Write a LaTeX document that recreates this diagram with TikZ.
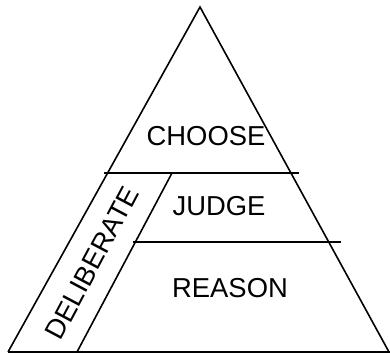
\documentclass[tikz,border=0pt]{standalone}
\usepackage{fontspec}
\setmainfont{Liberation Sans}
\usepackage{tikz}
\usetikzlibrary{positioning,calc}

\begin{document}
\begin{tikzpicture}[x=1bp,y=-1bp,line width=1.6bp,
            tier node/.style={inner sep=0pt,font=\fontsize{27.5}{31}\selectfont}]

            \useasboundingbox (0,0) rectangle (390,354);
            % corners of the pyramid
            \coordinate (top) at (200,7);
            \coordinate (bl) at (8,352);
            \coordinate (br) at (389,352);
            \coordinate (bend) at (390,352);
            % ends of the cross lines
            \coordinate (c1l) at (104,173);
            \coordinate (c1r) at (299,173);
            \coordinate (c2l) at (133,242);
            \coordinate (c2r) at (341,242);
            \coordinate (sl1) at (172,173);
            \coordinate (sl2) at (77,352);

            \draw (bl) -- (top) -- (br);
            \draw (bl) -- (bend);
            \draw (c1l) -- (c1r);
            \draw (c2l) -- (c2r);
            \draw (sl1) -- (sl2);

            \node[tier node] (choose) at (206,136) {CHOOSE};
            \node[tier node] (judge) at (219,206) {JUDGE};
            \node[tier node] (reason) at (230,288) {REASON};
            \node[tier node,rotate=62] (deliberate) at (92,263) {DELIBERATE};
          \end{tikzpicture}
\end{document}
